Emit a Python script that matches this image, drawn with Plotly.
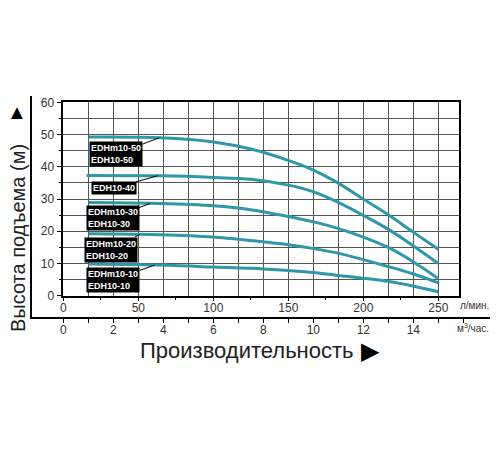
#importando bibliotecas
import numpy as np
import plotly.graph_objects as go

#dados (vazão em l/min, altura em m)
vazao = [17, 65, 100, 125, 150, 167, 183, 200, 217, 233, 250]
vazao_40 = [15.5, 65, 100, 125, 150, 167, 183, 200, 217, 233, 250]
altura_50 = [49.2, 49.0, 47.7, 45.5, 42.0, 38.9, 35.0, 30.0, 25.0, 19.8, 14.4]
altura_40 = [37.3, 37.2, 36.7, 36.1, 34.3, 32.2, 29.0, 24.9, 20.5, 15.6, 10.0]
altura_30 = [28.9, 28.6, 27.9, 26.7, 24.6, 22.9, 20.9, 18.2, 14.9, 10.6, 5.3]
altura_20 = [19.2, 18.9, 18.2, 17.1, 15.8, 14.6, 13.2, 11.2, 9.0, 6.8, 4.0]
altura_10 = [9.8, 9.5, 8.9, 8.5, 7.8, 7.2, 6.3, 5.4, 4.4, 3.0, 1.2]

modelos = ['EDHm10-50<br>EDH10-50', 'EDH10-40', 'EDHm10-30<br>EDH10-30',
           'EDHm10-20<br>EDH10-20', 'EDHm10-10<br>EDH10-10']

#eixos
ticks_lmin = [0, 50, 100, 150, 200, 250]
ticks_m3h = [0, 2, 4, 6, 8, 10, 12, 14]
ticks_m3h_menores = [1, 3, 5, 7, 9, 11, 13, 15, 16]
lmin_por_m3h = 1000 / 60

#posições das caixas de texto e das setas
caixa_x = [35.3, 33.5, 32.9, 31.5, 33.3]
caixa_y = [43.9, 33.4, 24.2, 14.3, 4.9]
seta_q = [64, 63, 58, 51, 61]

cor = '#2f97a9'
cinza = '#333333'
fonte = 'Liberation Sans, Arial, sans-serif'

series = [(vazao, altura_50), (vazao_40, altura_40), (vazao, altura_30),
          (vazao, altura_20), (vazao, altura_10)]

fig = go.Figure()
for q, h in series:
    fig.add_trace(go.Scatter(x=q, y=h, mode='lines',
                             line=dict(color=cor, width=3, shape='spline', smoothing=0.8),
                             showlegend=False, hoverinfo='skip'))

#traços invisíveis para desenhar os eixos em m3/h
vazao_m3h = [v / lmin_por_m3h for v in vazao]
for ex, ey in [('x2', 'y2'), ('x3', 'y')]:
    fig.add_trace(go.Scatter(x=vazao_m3h, y=altura_10, xaxis=ex, yaxis=ey, mode='lines',
                             line=dict(width=0), opacity=0, showlegend=False, hoverinfo='skip'))

#caixas pretas com os nomes dos modelos
for i, (q, h) in enumerate(series):
    fig.add_annotation(x=seta_q[i], y=float(np.interp(seta_q[i], q, h)), xref='x', yref='y',
                       ax=caixa_x[i], ay=caixa_y[i], axref='x', ayref='y',
                       text='<b>' + modelos[i] + '</b>', showarrow=True, arrowhead=0,
                       arrowwidth=1, arrowcolor='black', standoff=0,
                       font=dict(family=fonte, size=9, color='white'),
                       bgcolor='black', borderpad=1, align='left')

#coordenadas da página (a página tem 8 px de margem)
desloc = 8
x0, x1 = 32, 490
y0, y1 = 96, 390
def px(v):
    return (v - x0) / (x1 - x0)
def py(v):
    return (y1 - v) / (y1 - y0)

fig.update_layout(
    template='none',
    width=500, height=450,
    margin=dict(l=x0 - desloc, r=500 - x1 + desloc, t=y0 - desloc, b=450 - y1 + desloc,
                autoexpand=False),
    paper_bgcolor='white', plot_bgcolor='rgba(0,0,0,0)',
    font=dict(family=fonte, color=cinza, size=12),
    xaxis=dict(domain=[px(63.3), px(459.3)], range=[0, 264], anchor='y', automargin=False,
               tickvals=ticks_lmin, ticks='outside', ticklen=4, tickcolor='black',
               ticklabelstandoff=-4,
               showgrid=False, zeroline=False, showline=True, mirror=True,
               linecolor='black', linewidth=1.5,
               minor=dict(dtick=25, tick0=0, ticks='outside', ticklen=3, tickcolor='black')),
    xaxis3=dict(domain=[px(63.3), px(459.3)], range=[0, 264 / lmin_por_m3h], anchor='y',
                overlaying='x', dtick=1, tick0=0, showgrid=True, gridcolor='#555555',
                gridwidth=1, showticklabels=False, ticks='', zeroline=False, automargin=False),
    xaxis2=dict(domain=[0, 1], anchor='y2',
                range=[(x0 - 63.3) / 25, (x1 - 63.3) / 25], automargin=False, side='bottom',
                tickvals=ticks_m3h, ticks='outside', ticklen=4, ticklabelstandoff=-4,
                tickcolor='black', showgrid=False, zeroline=False, showline=True,
                linecolor='black', linewidth=2,
                minor=dict(tickmode='array', tickvals=ticks_m3h_menores, ticks='outside',
                           ticklen=4, tickcolor='black', showgrid=False)),
    yaxis2=dict(domain=[py(317.3), 1], anchor='x2', range=[0, 1], showline=True,
                linecolor='black', linewidth=2, showgrid=False, zeroline=False,
                showticklabels=False, ticks='', automargin=False),
    yaxis=dict(domain=[py(295.7), py(102.3)], range=[0, 60], dtick=10, ticks='outside',
               ticklen=5, tickcolor='black', showgrid=True, gridcolor='#555555',
               zeroline=False, showline=True, mirror=True, linecolor='black', linewidth=1.5,
               automargin=False,
               minor=dict(dtick=5, ticks='outside', ticklen=3, tickcolor='black',
                          showgrid=True, gridcolor='#555555')),
)

#rótulos e títulos
def rotulo(x, y, texto, tamanho, cor_texto, angulo=0, ancora='center'):
    fig.add_annotation(x=px(x), y=py(y), xref='paper', yref='paper', text=texto,
                       xanchor=ancora, yanchor='middle', textangle=angulo,
                       showarrow=False, font=dict(size=tamanho, color=cor_texto))

rotulo(491, 305, 'л/мин.', 10, cinza, ancora='right')
rotulo(491, 328, 'м<sup>3</sup>/час.', 10, cinza, ancora='right')
rotulo(18, 238, 'Высота подъема (м)', 20, '#222222', -90)
rotulo(17, 112, '▲', 20, 'black')
rotulo(247, 350, 'Производительность', 22, '#222222')
rotulo(370, 350, '▶', 24, 'black')

fig.write_html("out.html")
